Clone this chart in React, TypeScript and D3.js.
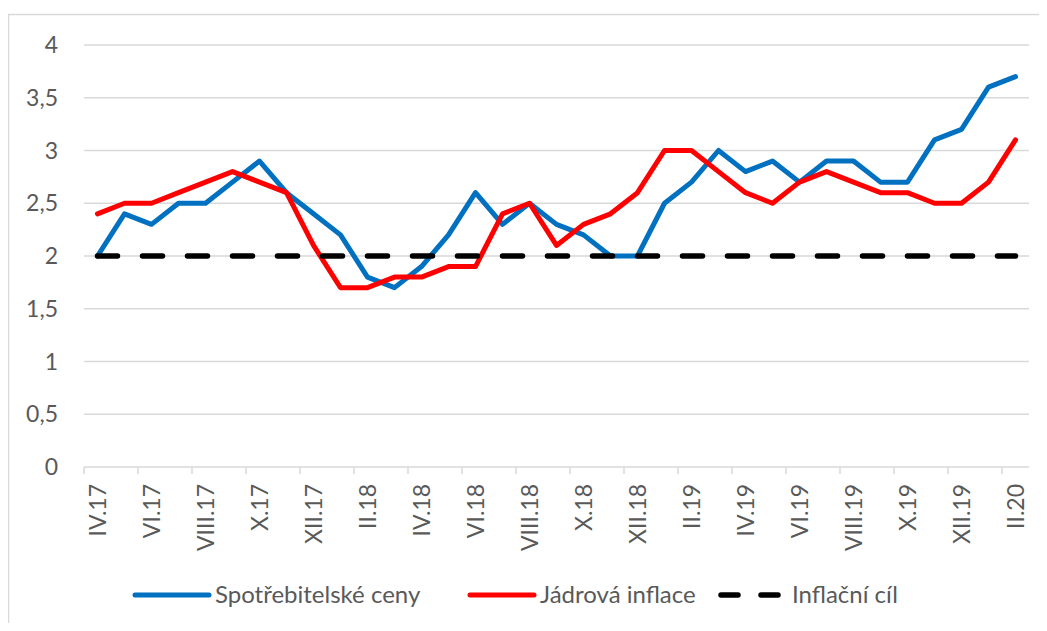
import { useRef, useEffect } from "react";
import * as d3 from "d3";

const months = [
  "IV.17", "V.17", "VI.17", "VII.17", "VIII.17", "IX.17", "X.17", "XI.17", "XII.17",
  "I.18", "II.18", "III.18", "IV.18", "V.18", "VI.18", "VII.18", "VIII.18", "IX.18",
  "X.18", "XI.18", "XII.18", "I.19", "II.19", "III.19", "IV.19", "V.19", "VI.19",
  "VII.19", "VIII.19", "IX.19", "X.19", "XI.19", "XII.19", "I.20", "II.20",
];

const consumerPrices = [
  2.0, 2.4, 2.3, 2.5, 2.5, 2.7, 2.9, 2.6, 2.4, 2.2, 1.8, 1.7, 1.9, 2.2, 2.6, 2.3, 2.5, 2.3,
  2.2, 2.0, 2.0, 2.5, 2.7, 3.0, 2.8, 2.9, 2.7, 2.9, 2.9, 2.7, 2.7, 3.1, 3.2, 3.6, 3.7,
];

const coreInflation = [
  2.4, 2.5, 2.5, 2.6, 2.7, 2.8, 2.7, 2.6, 2.1, 1.7, 1.7, 1.8, 1.8, 1.9, 1.9, 2.4, 2.5, 2.1,
  2.3, 2.4, 2.6, 3.0, 3.0, 2.8, 2.6, 2.5, 2.7, 2.8, 2.7, 2.6, 2.6, 2.5, 2.5, 2.7, 3.1,
];

const inflationTarget = months.map(() => 2);

const yTicks = [0, 0.5, 1, 1.5, 2, 2.5, 3, 3.5, 4];

const FONT = "Lato, 'Open Sans', sans-serif";
const TEXT = "#595959";

export default function App() {
  const svgRef = useRef<SVGSVGElement>(null);

  useEffect(() => {
    if (!svgRef.current) return;
    const width = 1047;
    const height = 631;
    const margin = { top: 45, right: 18, bottom: 164, left: 84 };
    const innerWidth = width - margin.left - margin.right;
    const innerHeight = height - margin.top - margin.bottom;

    const svg = d3.select(svgRef.current);
    svg.selectAll("*").remove();
    svg.attr("width", width).attr("height", height);

    // chart border
    svg.append("rect")
      .attr("x", 8.5).attr("y", 14.5)
      .attr("width", width + 10).attr("height", height + 10)
      .attr("fill", "none").attr("stroke", "#d9d9d9").attr("stroke-width", 1.5);

    const g = svg.append("g").attr("transform", `translate(${margin.left}, ${margin.top})`);

    const x = d3.scaleBand().domain(months).range([0, innerWidth]).padding(0);
    const y = d3.scaleLinear().domain([0, 4]).range([innerHeight, 0]);
    const cx = (m: string) => (x(m) || 0) + x.bandwidth() / 2;

    // gridlines
    g.selectAll(".grid")
      .data(yTicks.filter((t) => t > 0))
      .enter()
      .append("line")
      .attr("x1", 0).attr("x2", innerWidth)
      .attr("y1", (d) => y(d)).attr("y2", (d) => y(d))
      .attr("stroke", "#d9d9d9").attr("stroke-width", 1.5);

    // y labels
    g.selectAll(".ylab")
      .data(yTicks)
      .enter()
      .append("text")
      .attr("x", -26)
      .attr("y", (d) => y(d))
      .attr("dy", "0.35em")
      .attr("text-anchor", "end")
      .attr("fill", TEXT)
      .attr("font-family", FONT)
      .attr("font-size", "23px")
      .text((d) => String(d).replace(".", ","));

    // x axis line + ticks
    g.append("line")
      .attr("x1", 0).attr("x2", innerWidth)
      .attr("y1", innerHeight).attr("y2", innerHeight)
      .attr("stroke", "#d9d9d9").attr("stroke-width", 1.5);

    const tickIdx = d3.range(0, months.length + 1, 2);
    g.selectAll(".tick")
      .data(tickIdx)
      .enter()
      .append("line")
      .attr("x1", (i) => i * x.step()).attr("x2", (i) => i * x.step())
      .attr("y1", innerHeight).attr("y2", innerHeight + 7)
      .attr("stroke", "#d9d9d9").attr("stroke-width", 1.5);

    g.selectAll(".xlab")
      .data(months.filter((_, i) => i % 2 === 0))
      .enter()
      .append("text")
      .attr("transform", (d) => `translate(${cx(d)}, ${innerHeight + 17}) rotate(-90)`)
      .attr("dy", "0.35em")
      .attr("text-anchor", "end")
      .attr("fill", TEXT)
      .attr("font-family", FONT)
      .attr("font-size", "23px")
      .text((d) => d);

    const line = d3.line<number>()
      .x((_, i) => cx(months[i]))
      .y((d) => y(d))
      .curve(d3.curveLinear);

    g.append("path")
      .datum(consumerPrices)
      .attr("d", line)
      .attr("fill", "none")
      .attr("stroke", "#0070C0")
      .attr("stroke-width", 5)
      .attr("stroke-linejoin", "round")
      .attr("stroke-linecap", "round");

    g.append("path")
      .datum(coreInflation)
      .attr("d", line)
      .attr("fill", "none")
      .attr("stroke", "#FF0000")
      .attr("stroke-width", 5)
      .attr("stroke-linejoin", "round")
      .attr("stroke-linecap", "round");

    g.append("path")
      .datum(inflationTarget)
      .attr("d", line)
      .attr("fill", "none")
      .attr("stroke", "#000")
      .attr("stroke-width", 5.5)
      .attr("stroke-dasharray", "20,25")
      .attr("stroke-linecap", "round");

    // legend
    const legend = [
      { label: "Spotřebitelské ceny", color: "#0070C0", x1: 135, x2: 209, dash: null },
      { label: "Jádrová inflace", color: "#FF0000", x1: 470, x2: 534, dash: null },
      { label: "Inflační cíl", color: "#000", x1: 721, x2: 778, dash: "17,23" },
    ];
    const ly = 595;
    const lg = svg.append("g");
    legend.forEach((l) => {
      lg.append("line")
        .attr("x1", l.x1).attr("x2", l.x2)
        .attr("y1", ly).attr("y2", ly)
        .attr("stroke", l.color)
        .attr("stroke-width", l.dash ? 5.5 : 5)
        .attr("stroke-linecap", "round")
        .attr("stroke-dasharray", l.dash);
      lg.append("text")
        .attr("x", l.x2 + (l.dash ? 14 : 6))
        .attr("y", ly)
        .attr("dy", "0.35em")
        .attr("fill", TEXT)
        .attr("font-family", FONT)
        .attr("font-size", "24px")
        .text(l.label);
    });
  }, []);

  return (
    <div style={{ margin: -8 }}>
      <svg ref={svgRef} style={{ display: "block" }} />
    </div>
  );
}
